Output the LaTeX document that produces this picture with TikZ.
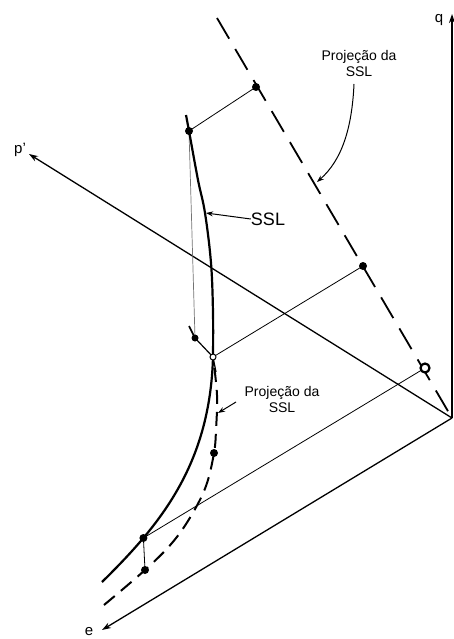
\documentclass[tikz,border=0pt]{standalone}
\usepackage{fontspec}
\setmainfont{Liberation Sans}
\usetikzlibrary{arrows.meta}
\begin{document}
\begin{tikzpicture}[x=1pt,y=-1pt,
 axis/.style={line width=1.3pt,-{Stealth[length=9pt,width=6pt]}},
 proj/.style={line width=0.8pt},
 vproj/.style={line width=0.7pt,black!55},
 dashline/.style={line width=1.8pt,dash pattern=on 24pt off 12pt},
 dashcurve/.style={line width=2pt,dash pattern=on 14pt off 8pt},
 sslcurve/.style={line width=2.2pt},
 dotf/.style={circle,fill=black,inner sep=0pt,minimum size=8pt},
 doto/.style={circle,draw=black,fill=white,line width=1pt,inner sep=0pt,minimum size=6pt},
 lbl/.style={font=\fontsize{14}{16}\selectfont,align=center,inner sep=0pt},
 axlbl/.style={font=\fontsize{15}{16}\selectfont,inner sep=0pt},
 pointer/.style={line width=1pt,-{Stealth[length=7pt,width=5pt]}}]
\useasboundingbox (0,0) rectangle (454,639);
% axes
\coordinate (O) at (452,418);
\coordinate (qend) at (452,14);
\coordinate (pend) at (29,154);
\coordinate (eend) at (102,630);
\draw[axis] (O) -- (qend);
\draw[axis] (O) -- (pend);
\draw[axis] (O) -- (eend);
\node[axlbl] (qlab) at (439,20) {q};
\node[axlbl] (plab) at (20,150) {p'};
\node[axlbl] (elab) at (89,632) {e};
% straight projection of SSL on q-p' plane
\coordinate (T) at (217,18);
\draw[dashline] (T) -- (O);
% points
\coordinate (A) at (189,131);
\coordinate (Ap) at (256,87);
\coordinate (B) at (213,357);
\coordinate (Bp) at (363,266);
\coordinate (C) at (143.4,538);
\coordinate (Cp) at (425,368);
\coordinate (Av) at (195,338);
\coordinate (Bv) at (214,453);
\coordinate (Cv) at (145,570);
% projection lines
\draw[proj] (A) -- (Ap);
\draw[proj] (B) -- (Bp);
\draw[proj] (C) -- (Cp);
\draw[vproj] (A) -- (Av);
\draw[proj] (C) -- (Cv);
\draw[line width=1.6pt] (189,326) -- (Av);
% SSL curve
\draw[sslcurve] plot[smooth,tension=0.6] coordinates {(186,115) (A) (198,180) (205,213) (211,263) (213,313) (B)}
  .. controls (210,465) and (160,525) .. (102,582);
% projected SSL curve (e-p' plane)
\draw[line width=1.2pt] (Av) -- (B);
\draw[line width=1.2pt] (B) -- (216,372);
\draw[dashcurve] plot[smooth,tension=0.6] coordinates {(104,605) (Cv) (172,543) (191,516) (206,486) (Bv) (216,430) (217,395) (B)};
% dots
\node[dotf] (dA) at (A) {};
\node[dotf] (dAp) at (Ap) {};
\node[doto] (dB) at (B) {};
\node[dotf] (dBp) at (Bp) {};
\node[dotf] (dC) at (C) {};
\node[doto,line width=2.2pt,minimum size=9pt] (dCp) at (Cp) {};
\node[dotf,minimum size=7pt] (dAv) at (Av) {};
\node[dotf] (dBv) at (Bv) {};
\node[dotf] (dCv) at (Cv) {};
% labels
\node[lbl] (proj1) at (359,63) {Projeção da\\SSL};
\draw[pointer] (354,84) .. controls (352,128) and (342,160) .. (317,182);
\node[font=\fontsize{18}{20}\selectfont,inner sep=0pt] (ssl) at (268,219) {SSL};
\draw[pointer] (ssl.west) -- (206,213);
\node[lbl] (proj2) at (282,399) {Projeção da\\SSL};
\draw[pointer] (236,402) -- (218,413);
\end{tikzpicture}
\end{document}
